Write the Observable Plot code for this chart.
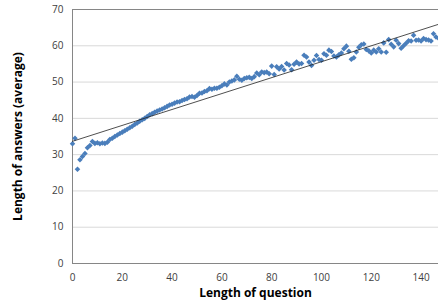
<!DOCTYPE html>
<html>
<head>
<meta charset="utf-8">
<script src="https://cdn.jsdelivr.net/npm/d3@7"></script>
<script src="https://cdn.jsdelivr.net/npm/@observablehq/plot@0.6"></script>
<style>
  html, body { margin: 0; padding: 0; background: #fff; }
  svg { display: block; }
</style>
</head>
<body>
<div id="chart"></div>
<script>
const questionLength = d3.range(0, 148);
const answerLength = [
  33.0, 34.5, 26.0, 28.6, 29.5, 30.3, 31.9, 32.5, 33.6, 33.1,
  33.3, 33.0, 33.2, 33.1, 33.4, 34.2, 34.5, 35.0, 35.4, 35.8,
  36.2, 36.6, 37.0, 37.4, 37.8, 38.3, 38.7, 39.2, 39.6, 40.0,
  40.5, 41.0, 41.3, 41.7, 42.0, 42.3, 42.6, 42.9, 43.3, 43.7,
  43.9, 44.2, 44.5, 44.6, 44.9, 45.2, 45.4, 45.9, 46.0, 45.8,
  46.3, 46.9, 47.0, 47.4, 47.6, 48.2, 48.0, 48.3, 48.3, 48.6,
  49.0, 49.5, 49.2, 50.0, 50.3, 50.6, 51.6, 50.8, 50.5, 51.0,
  51.2, 51.3, 51.0, 51.5, 52.5, 52.0, 52.8, 52.6, 52.8, 52.3,
  54.4, 52.1, 54.2, 53.6, 54.3, 53.3, 55.1, 54.7, 53.4, 54.9,
  55.5, 55.0, 55.1, 57.4, 56.9, 55.5, 54.6, 56.0, 57.3, 56.2,
  56.0, 57.8, 57.4, 58.8, 58.4, 57.2, 56.9, 57.5, 58.0, 59.2,
  59.9, 58.5, 56.3, 56.7, 58.3, 59.6, 60.3, 60.5, 59.0, 58.6,
  58.0, 58.8, 58.3, 59.2, 58.3, 60.8, 58.2, 61.7, 60.4, 59.7,
  61.5, 60.6, 59.3, 60.0, 60.7, 61.4, 61.3, 62.9, 61.5, 61.6,
  61.3, 62.0, 61.7, 61.6, 61.3, 63.3, 62.4, 62.1
];
const xTicks = [0, 20, 40, 60, 80, 100, 120, 140];
const yTicks = [0, 10, 20, 30, 40, 50, 60, 70];
const xLabel = "Length of question";
const yLabel = "Length of answers (average)";

const data = questionLength.map((q, i) => ({q, a: answerLength[i]}));

const chart = Plot.plot({
  width: 438,
  height: 304,
  marginTop: 9,
  marginBottom: 41,
  marginLeft: 72,
  marginRight: 0,
  style: {fontFamily: "'Open Sans', sans-serif", background: "#fff"},
  x: {domain: [0, 147]},
  y: {domain: [0, 70]},
  marks: [
    Plot.ruleY(yTicks.filter(d => d > 0 && d < 70), {stroke: "#d9d9d9", strokeWidth: 1}),
    Plot.ruleY([70], {stroke: "#868686", strokeWidth: 1}),
    Plot.ruleY([0], {stroke: "#868686", strokeWidth: 1}),
    Plot.ruleX([0], {stroke: "#868686", strokeWidth: 1}),
    Plot.axisX({ticks: xTicks, tickSize: 0, tickPadding: 10, label: null, fontSize: 10, fill: "#404040"}),
    Plot.axisY({ticks: yTicks, tickSize: 0, tickPadding: 9, label: null, fontSize: 10, fill: "#404040"}),
    Plot.dot(data, {x: "q", y: "a", symbol: "diamond2", r: 2.5, fill: "#4a7ebb", stroke: "none"}),
    Plot.linearRegressionY(data, {x: "q", y: "a", stroke: "#222", strokeWidth: 0.8, ci: 0}),
    Plot.text([xLabel], {frameAnchor: "bottom", dy: 33, fontSize: 12, fontWeight: "bold", fill: "#000"}),
    Plot.text([yLabel], {frameAnchor: "left", dx: -54, rotate: -90, textAnchor: "middle", fontSize: 12, fontWeight: "bold", fill: "#000"})
  ]
});
document.getElementById("chart").appendChild(chart);
</script>
</body>
</html>
